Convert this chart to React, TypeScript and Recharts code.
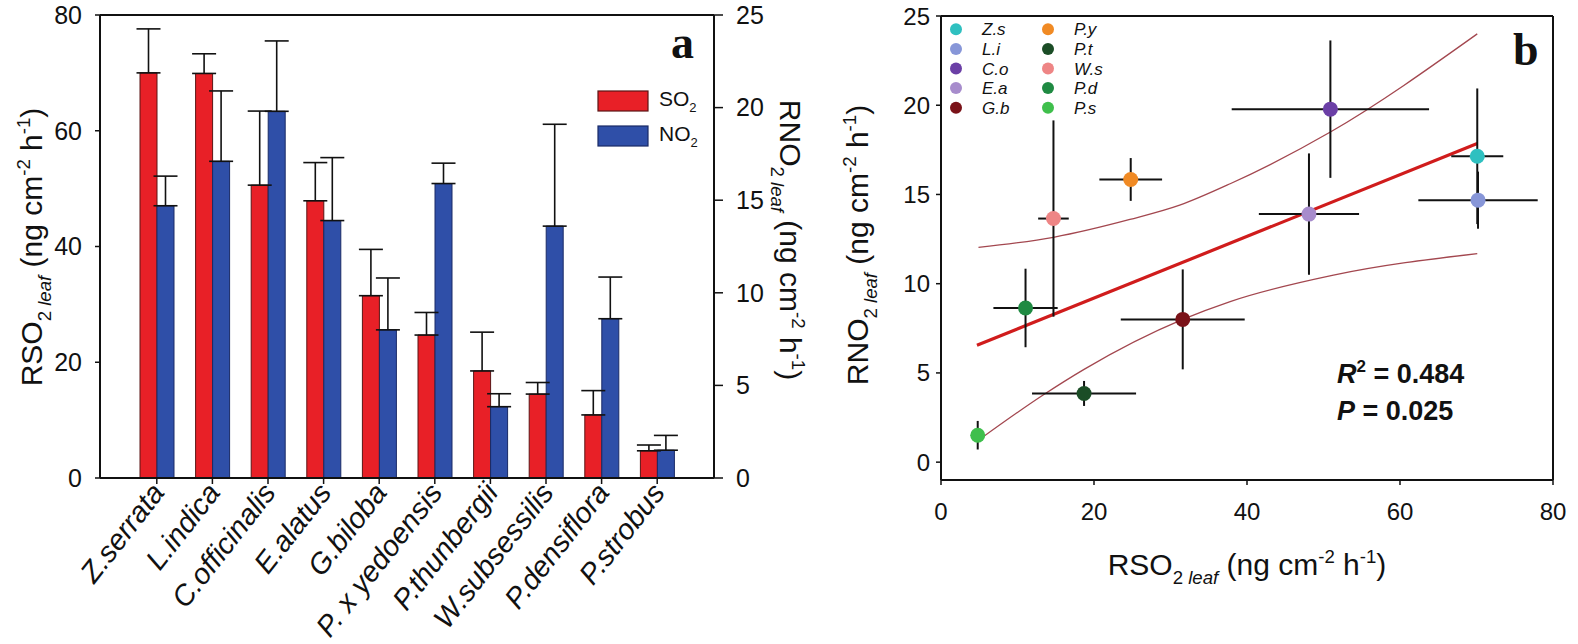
import React from 'react';
import {
  ComposedChart, Bar, XAxis, YAxis, ErrorBar, ReferenceLine, Scatter, Line, Cell, Customized,
} from 'recharts';

// ---------- Panel a data ----------
const species = ['Z.serrata', 'L.indica', 'C.officinalis', 'E.alatus', 'G.biloba', 'P. x yedoensis', 'P.thunbergii', 'W.subsessilis', 'P.densiflora', 'P.strobus'];
const so2Mean = [70.0, 69.9, 50.6, 47.9, 31.5, 24.7, 18.5, 14.5, 10.9, 4.7];
const so2Err = [7.6, 3.4, 12.8, 6.6, 8.0, 3.9, 6.7, 2.0, 4.2, 1.0];
const no2Mean = [14.7, 17.1, 19.8, 13.9, 8.0, 15.9, 3.85, 13.6, 8.6, 1.5];
const no2Err = [1.6, 3.8, 3.8, 3.4, 2.8, 1.1, 0.7, 5.5, 2.25, 0.8];
const leftTicks = [0, 20, 40, 60, 80];
const rightTicks = [0, 5, 10, 15, 20, 25];

// ---------- Panel b data ----------
const codes = ['Z.s', 'L.i', 'C.o', 'E.a', 'G.b', 'P.y', 'P.t', 'W.s', 'P.d', 'P.s'];
const pointColors = ['#2fc0c0', '#8796d8', '#6b3fa6', '#a78ccc', '#7a1218', '#f08a24', '#1b4d26', '#ee8585', '#1f8a42', '#3fbf4c'];
const sx = [70.1, 70.2, 50.9, 48.1, 31.6, 24.8, 18.7, 14.7, 11.05, 4.8];
const sy = [17.14, 14.68, 19.78, 13.9, 8.0, 15.84, 3.85, 13.65, 8.64, 1.51];
const sxErr = [3.4, 7.8, 12.9, 6.55, 8.1, 4.1, 6.8, 2.0, 4.2, 0.5];
const syErr = [3.8, 1.6, 3.85, 3.4, 2.8, 1.2, 0.7, 5.5, 2.2, 0.8];
const regX = [4.7, 70.1];
const regY = [6.55, 17.85];
const upperX = [4.9, 14.7, 24.7, 31.2, 37.8, 50.9, 70.1];
const upperY = [12.03, 12.6, 13.6, 14.4, 15.6, 18.5, 24.0];
const lowerX = [4.8, 13.3, 18.7, 31.6, 37.8, 51.3, 70.1];
const lowerY = [1.2, 3.75, 5.2, 8.0, 9.0, 10.48, 11.69];
const xTicksB = [0, 20, 40, 60, 80];
const yTicksB = [0, 5, 10, 15, 20, 25];
const statR2 = '0.484';
const statP = '0.025';

const FONT = '"Liberation Sans", Arial, Helvetica, sans-serif';
const SERIF = '"Liberation Serif", "Times New Roman", serif';
const RED = '#e82027';
const BLUE = '#2f4fa8';

const barData = species.map((s, i) => ({
  name: s,
  so2: so2Mean[i],
  so2e: [0, so2Err[i]],
  no2: no2Mean[i],
  no2e: [0, no2Err[i]],
}));

const scatterData = codes.map((c, i) => ({ name: c, x: sx[i], y: sy[i], ex: sxErr[i], ey: syErr[i] }));
const regData = regX.map((x, i) => ({ x, y: regY[i] }));
const upperData = upperX.map((x, i) => ({ x, y: upperY[i] }));
const lowerData = lowerX.map((x, i) => ({ x, y: lowerY[i] }));

type Seg = { t: string; sub?: boolean; sup?: boolean; it?: boolean };
const titleSegs = (gas: string): Seg[] => [
  { t: 'R' + gas },
  { t: '2', sub: true },
  { t: ' leaf', sub: true, it: true },
  { t: ' (ng cm' },
  { t: '-2', sup: true },
  { t: ' h' },
  { t: '-1', sup: true },
  { t: ')' },
];

function RichText({ x, y, rotate, size, segs, anchor = 'middle', weight = 'normal' }: any) {
  let cur = 0;
  const parts = segs.map((s: Seg, i: number) => {
    const target = s.sub ? size * 0.3 : s.sup ? -size * 0.4 : 0;
    const dy = target - cur;
    cur = target;
    const fs = s.sub || s.sup ? size * 0.62 : size;
    return (
      <tspan key={i} dy={dy} fontSize={fs} fontStyle={s.it ? 'italic' : 'normal'}>{s.t}</tspan>
    );
  });
  return (
    <text
      x={x}
      y={y}
      textAnchor={anchor}
      fontFamily={FONT}
      fontSize={size}
      fontWeight={weight}
      fill="#111"
      style={{ whiteSpace: 'pre' }}
      transform={rotate ? `rotate(${rotate}, ${x}, ${y})` : undefined}
    >
      {parts}
    </text>
  );
}

const CatTick = (props: any) => {
  const { x, y, payload } = props;
  return (
    <g transform={`translate(${x + 9},${y + 9}) rotate(-52)`}>
      <text x={0} y={0} textAnchor="end" fontFamily={FONT} fontStyle="italic" fontSize={29} fill="#111">
        {payload.value}
      </text>
    </g>
  );
};

const PanelAOverlay = () => (
  <g>
    <RichText x={42} y={247} rotate={-90} size={30} segs={titleSegs('SO')} />
    <RichText x={780} y={240} rotate={90} size={30} segs={titleSegs('NO')} />
    <text x={671} y={58} fontFamily={SERIF} fontWeight="bold" fontSize={46} fill="#111">a</text>
    <rect x={598} y={91} width={50} height={20} fill={RED} stroke="#5a1515" strokeWidth={1.2} />
    <rect x={598} y={126} width={50} height={20} fill={BLUE} stroke="#1a2a66" strokeWidth={1.2} />
    <RichText x={659} y={106} size={21} anchor="start" segs={[{ t: 'SO' }, { t: '2', sub: true }]} />
    <RichText x={659} y={141} size={21} anchor="start" segs={[{ t: 'NO' }, { t: '2', sub: true }]} />
  </g>
);

const PanelBOverlay = () => (
  <g>
    <RichText x={68} y={245} rotate={-90} size={30} segs={titleSegs('NO')} />
    <RichText x={447} y={575} size={30} segs={titleSegs('SO')} />
    <text x={713} y={65} fontFamily={SERIF} fontWeight="bold" fontSize={46} fill="#111">b</text>
    {codes.map((c, i) => {
      const col = Math.floor(i / 5);
      const row = i % 5;
      const cx = col === 0 ? 156 : 248;
      const cy = 29.3 + row * 19.6;
      return (
        <g key={c}>
          <circle cx={cx} cy={cy} r={6} fill={pointColors[i]} />
          <text x={cx + 26} y={cy + 6} fontFamily={FONT} fontStyle="italic" fontSize={17} fill="#111">{c}</text>
        </g>
      );
    })}
    <text x={537} y={383} fontFamily={FONT} fontWeight="bold" fontSize={27} fill="#111" style={{ whiteSpace: 'pre' }}>
      <tspan fontStyle="italic">R</tspan>
      <tspan fontSize={17} dy={-11}>2</tspan>
      <tspan dy={11}>{' = ' + statR2}</tspan>
    </text>
    <text x={537} y={420} fontFamily={FONT} fontWeight="bold" fontSize={27} fill="#111" style={{ whiteSpace: 'pre' }}>
      <tspan fontStyle="italic">P</tspan>
      <tspan>{' = ' + statP}</tspan>
    </text>
  </g>
);

const PointShape = (props: any) => <circle cx={props.cx} cy={props.cy} r={7.5} fill={props.fill} />;

const axisLine = { stroke: '#111', strokeWidth: 2 };
const tickLine = { stroke: '#111', strokeWidth: 1.5 };
const tickStyle = { fontFamily: FONT, fontSize: 25, fill: '#111' };

export default function App() {
  return (
    <div style={{ position: 'absolute', left: 0, top: 0, width: 1578, height: 644, background: '#fff', overflow: 'hidden' }}>
      <div style={{ position: 'absolute', left: 800, top: 0 }}>
        <ComposedChart
          width={778}
          height={644}
          margin={{ top: 16, left: 81, right: 25, bottom: 44 }}
        >
          <XAxis
            type="number"
            dataKey="x"
            domain={[0, 80]}
            ticks={xTicksB}
            height={120}
            tickSize={5}
            tickMargin={18}
            axisLine={axisLine}
            tickLine={tickLine}
            tick={{ ...tickStyle, fontSize: 24 }}
            allowDataOverflow
          />
          <YAxis
            type="number"
            dataKey="y"
            domain={[-1, 25]}
            ticks={yTicksB}
            width={60}
            tickSize={5}
            tickMargin={6}
            axisLine={axisLine}
            tickLine={tickLine}
            tick={{ ...tickStyle, fontSize: 24 }}
            allowDataOverflow
          />
          <ReferenceLine y={25} stroke="#111" strokeWidth={2} />
          <ReferenceLine x={80} stroke="#111" strokeWidth={2} />
          <Line data={upperData} dataKey="y" type="monotone" dot={false} stroke="#a3474f" strokeWidth={1.3} isAnimationActive={false} />
          <Line data={lowerData} dataKey="y" type="monotone" dot={false} stroke="#a3474f" strokeWidth={1.3} isAnimationActive={false} />
          <Line data={regData} dataKey="y" type="linear" dot={false} stroke="#d01c1c" strokeWidth={3.2} isAnimationActive={false} />
          <Scatter data={scatterData} dataKey="y" shape={<PointShape />} isAnimationActive={false}>
            <ErrorBar dataKey="ex" direction="x" width={0} stroke="#111" strokeWidth={2} />
            <ErrorBar dataKey="ey" direction="y" width={0} stroke="#111" strokeWidth={2} />
            {scatterData.map((d, i) => (
              <Cell key={d.name} fill={pointColors[i]} />
            ))}
          </Scatter>
          <Customized component={PanelBOverlay} />
        </ComposedChart>
      </div>
      <div style={{ position: 'absolute', left: 0, top: 0 }}>
        <ComposedChart
          width={830}
          height={644}
          data={barData}
          margin={{ top: 15, left: 40, right: 56, bottom: 26 }}
          barGap={0}
          barCategoryGap={0}
        >
          <XAxis
            dataKey="name"
            height={140}
            interval={0}
            padding={{ left: 29, right: 29 }}
            tick={<CatTick />}
            tickSize={6}
            tickMargin={0}
            axisLine={axisLine}
            tickLine={tickLine}
          />
          <YAxis
            yAxisId="left"
            width={60}
            domain={[0, 80]}
            ticks={leftTicks}
            tickSize={5}
            tickMargin={13}
            axisLine={axisLine}
            tickLine={tickLine}
            tick={tickStyle}
          />
          <YAxis
            yAxisId="right"
            orientation="right"
            width={60}
            domain={[0, 25]}
            ticks={rightTicks}
            tickSize={9}
            tickMargin={13}
            axisLine={axisLine}
            tickLine={tickLine}
            tick={tickStyle}
          />
          <ReferenceLine yAxisId="left" y={80} stroke="#111" strokeWidth={2} />
          <Bar yAxisId="left" dataKey="so2" fill={RED} stroke="#5a1515" strokeWidth={1} barSize={17} isAnimationActive={false}>
            <ErrorBar dataKey="so2e" width={12} stroke="#111" strokeWidth={1.6} direction="y" />
          </Bar>
          <Bar yAxisId="right" dataKey="no2" fill={BLUE} stroke="#1a2a66" strokeWidth={1} barSize={17} isAnimationActive={false}>
            <ErrorBar dataKey="no2e" width={12} stroke="#111" strokeWidth={1.6} direction="y" />
          </Bar>
          <Customized component={PanelAOverlay} />
        </ComposedChart>
      </div>
    </div>
  );
}
